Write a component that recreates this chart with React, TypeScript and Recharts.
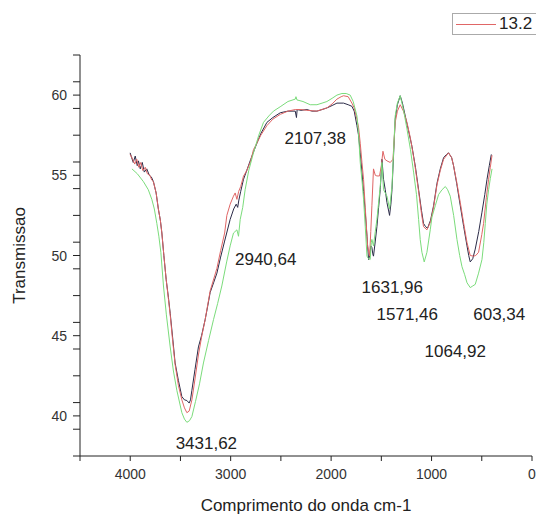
import React from "react";
import {
  LineChart,
  Line,
  XAxis,
  YAxis,
  Legend,
  ReferenceDot,
} from "recharts";

// wavenumber (cm-1) / transmission pairs
const darkX = [4001, 3970, 3950, 3930, 3918, 3900, 3880, 3860, 3835, 3810, 3790, 3769, 3742, 3720, 3700, 3685, 3665, 3642, 3620, 3602, 3578, 3553, 3520, 3486, 3460, 3436, 3413, 3400, 3386, 3355, 3321, 3290, 3254, 3230, 3204, 3170, 3137, 3100, 3060, 3005, 2970, 2945, 2930, 2920, 2900, 2872, 2840, 2800, 2770, 2739, 2700, 2639, 2580, 2506, 2430, 2357, 2345, 2338, 2300, 2241, 2190, 2141, 2090, 2042, 1990, 1942, 1876, 1830, 1793, 1770, 1743, 1727, 1710, 1693, 1677, 1660, 1643, 1627, 1615, 1605, 1594, 1585, 1578, 1560, 1544, 1527, 1511, 1494, 1478, 1461, 1444, 1418, 1405, 1394, 1378, 1362, 1340, 1312, 1290, 1262, 1230, 1195, 1160, 1129, 1100, 1080, 1060, 1040, 1010, 980, 946, 913, 880, 850, 831, 800, 781, 750, 714, 680, 647, 630, 615, 590, 565, 530, 498, 470, 448, 425, 405];
const darkY = [56.4, 55.8, 56.2, 55.6, 55.9, 55.4, 55.8, 55.2, 55.4, 55.0, 54.9, 54.6, 53.9, 52.9, 52.2, 51.4, 50.0, 48.5, 47.4, 46.4, 44.9, 43.3, 42.2, 41.2, 41.0, 40.96, 40.8, 41.0, 41.6, 42.9, 44.3, 45.0, 46.0, 46.8, 47.7, 48.3, 48.9, 49.9, 50.9, 52.25, 52.9, 53.2, 53.0, 53.4, 54.0, 54.75, 55.3, 56.0, 56.5, 57.0, 57.6, 58.3, 58.6, 58.9, 59.0, 59.0, 58.6, 59.1, 59.05, 59.1, 59.0, 59.0, 59.1, 59.2, 59.35, 59.5, 59.5, 59.4, 59.3, 59.0, 58.1, 57.5, 56.4, 55.2, 54.0, 52.7, 51.2, 49.75, 50.0, 50.6, 50.5, 50.1, 49.96, 50.9, 51.8, 53.0, 54.1, 56.0, 54.75, 54.1, 53.3, 52.5, 53.2, 54.1, 56.3, 58.5, 59.4, 59.96, 59.5, 58.7, 57.8, 56.8, 55.5, 54.1, 52.8, 52.0, 51.8, 51.7, 52.2, 53.1, 54.5, 55.4, 56.1, 56.3, 56.4, 56.1, 55.6, 54.5, 53.1, 51.8, 50.6, 50.0, 49.6, 49.8, 50.4, 51.5, 52.7, 53.8, 54.75, 55.6, 56.3];

const redX = [4001, 3975, 3955, 3935, 3915, 3895, 3875, 3850, 3830, 3805, 3785, 3769, 3742, 3720, 3700, 3685, 3665, 3642, 3620, 3602, 3578, 3553, 3520, 3486, 3460, 3436, 3413, 3386, 3355, 3321, 3290, 3254, 3204, 3137, 3100, 3060, 3038, 3005, 2972, 2955, 2938, 2920, 2900, 2872, 2839, 2800, 2773, 2739, 2700, 2639, 2580, 2506, 2430, 2357, 2300, 2241, 2141, 2042, 1990, 1942, 1900, 1876, 1830, 1793, 1770, 1743, 1727, 1710, 1693, 1677, 1660, 1637, 1617, 1605, 1594, 1578, 1560, 1544, 1518, 1500, 1484, 1465, 1444, 1411, 1384, 1362, 1340, 1312, 1280, 1245, 1210, 1170, 1129, 1100, 1080, 1046, 1010, 980, 946, 913, 880, 831, 800, 781, 750, 714, 680, 647, 615, 582, 560, 532, 500, 482, 455, 432, 415, 398];
const redY = [56.3, 56.0, 55.7, 56.0, 55.5, 55.8, 55.3, 55.5, 55.1, 55.0, 54.7, 54.6, 53.9, 52.9, 52.2, 51.4, 50.0, 48.5, 47.3, 46.3, 44.7, 43.2, 41.9, 41.0, 40.5, 40.2, 40.3, 41.0, 42.3, 43.8, 44.9, 46.0, 47.8, 49.2, 50.3, 51.4, 52.5, 53.2, 53.7, 53.9, 53.5, 54.0, 54.3, 54.95, 55.3, 55.9, 56.6, 57.0, 57.5, 58.1, 58.5, 58.8, 59.0, 59.1, 59.1, 59.05, 59.0, 59.2, 59.45, 59.75, 59.9, 59.96, 59.9, 59.5, 59.2, 58.5, 58.0, 57.0, 55.8, 54.75, 53.0, 50.6, 49.96, 51.5, 53.1, 55.4, 55.0, 54.96, 54.96, 55.6, 56.5, 56.0, 55.9, 55.8, 56.0, 58.3, 59.0, 59.4, 59.0, 58.3, 57.3, 55.8, 54.0, 52.6, 51.8, 51.6, 52.1, 53.0, 54.4, 55.3, 56.0, 56.4, 56.1, 55.6, 54.6, 53.3, 52.0, 50.8, 50.0, 49.96, 50.0, 50.2, 51.3, 52.0, 53.6, 54.75, 55.5, 56.25];

const greenX = [3983, 3930, 3868, 3820, 3785, 3760, 3735, 3715, 3695, 3669, 3640, 3602, 3570, 3536, 3486, 3460, 3436, 3410, 3386, 3350, 3310, 3271, 3220, 3171, 3130, 3088, 3040, 3005, 2972, 2938, 2922, 2905, 2880, 2856, 2820, 2773, 2720, 2673, 2620, 2574, 2500, 2430, 2357, 2350, 2340, 2280, 2208, 2141, 2090, 2042, 1990, 1942, 1892, 1850, 1810, 1780, 1743, 1727, 1710, 1690, 1677, 1660, 1643, 1627, 1611, 1600, 1594, 1578, 1560, 1544, 1511, 1494, 1478, 1444, 1418, 1394, 1378, 1362, 1340, 1312, 1280, 1245, 1210, 1179, 1150, 1129, 1113, 1096, 1073, 1046, 1013, 996, 963, 930, 896, 863, 840, 814, 780, 747, 720, 697, 670, 647, 615, 590, 565, 532, 498, 480, 465, 450, 432, 415, 398];
const greenY = [55.4, 55.1, 54.6, 54.1, 53.5, 52.9, 52.0, 51.2, 50.2, 48.1, 46.3, 44.3, 42.8, 41.6, 40.2, 39.8, 39.6, 39.7, 39.96, 40.9, 42.0, 43.3, 44.7, 46.0, 47.0, 48.1, 49.6, 50.6, 51.4, 51.6, 51.2, 52.25, 53.0, 54.1, 55.3, 56.4, 57.5, 58.3, 58.7, 59.0, 59.3, 59.6, 59.75, 59.9, 59.7, 59.6, 59.4, 59.4, 59.5, 59.6, 59.8, 60.0, 60.1, 60.1, 60.0, 59.6, 58.7, 57.6, 55.8, 54.5, 53.5, 51.8, 49.96, 49.8, 49.75, 50.8, 51.0, 50.6, 51.5, 52.25, 54.3, 55.8, 54.1, 53.7, 52.9, 54.3, 56.5, 58.7, 59.5, 59.96, 59.1, 57.9, 56.6, 55.2, 53.8, 52.25, 51.0, 50.2, 49.6, 50.2, 51.6, 52.4, 53.1, 53.8, 54.1, 54.3, 54.1, 53.7, 52.5, 51.0, 50.0, 49.3, 48.8, 48.3, 48.0, 48.1, 48.2, 48.9, 49.75, 50.8, 52.0, 53.2, 54.1, 54.8, 55.4];

const xTicks = [4500, 4000, 3500, 3000, 2500, 2000, 1500, 1000, 500, 0];
const yTicks = [37.5, 39.17, 40, 40.83, 42.5, 44.17, 45, 45.83, 47.5, 49.17, 50, 50.83, 52.5, 54.17, 55, 55.83, 57.5, 59.17, 60, 60.83, 62.5];

const peakX = [3242, 2651, 2158, 1391, 1242, 326, 764];
const peakY = [38.31, 49.81, 57.31, 48.06, 46.375, 46.375, 44.06];
const peakText = ["3431,62", "2940,64", "2107,38", "1631,96", "1571,46", "603,34", "1064,92"];

const legendName = "13.2";

const toPoints = (xs: number[], ys: number[]) => xs.map((x, i) => ({ x, y: ys[i] }));

const darkData = toPoints(darkX, darkY);
const redData = toPoints(redX, redY);
const greenData = toPoints(greenX, greenY);

const FONT = "'Liberation Sans', Arial, sans-serif";
const INK = "#222";

const XTick = ({ x, y, payload }: any) =>
  payload.value % 1000 === 0 ? (
    <text x={x} y={y + 16} textAnchor="middle" fontSize={14} fontFamily={FONT} fill="#333">
      {payload.value}
    </text>
  ) : (
    <g />
  );

const YTick = ({ x, y, payload }: any) =>
  Math.abs(payload.value % 5) < 0.01 ? (
    <text x={x - 4} y={y + 5} textAnchor="end" fontSize={14} fontFamily={FONT} fill="#333">
      {payload.value}
    </text>
  ) : (
    <g />
  );

const LegendBox = () => (
  <div
    style={{
      border: "1px solid #aaa",
      height: 22,
      width: 90,
      display: "flex",
      alignItems: "center",
      fontFamily: FONT,
      fontSize: 17,
      color: "#222",
      boxSizing: "border-box",
    }}
  >
    <span style={{ display: "inline-block", width: 40, height: 1, background: "#e06666", marginLeft: 3, marginRight: 3 }} />
    <span>{legendName}</span>
  </div>
);

export default function App() {
  return (
    <div style={{ position: "absolute", left: 0, top: 0, background: "#fff" }}>
      <LineChart width={536} height={518} margin={{ top: 55, right: 4, bottom: 0, left: 0 }}>
        <XAxis
          dataKey="x"
          type="number"
          domain={[0, 4500]}
          reversed
          ticks={xTicks}
          interval={0}
          tickSize={5}
          tick={<XTick />}
          stroke={INK}
          height={62}
          allowDataOverflow
          label={({ viewBox }: any) => (
            <text
              x={viewBox.x + viewBox.width / 2}
              y={viewBox.y + 55}
              textAnchor="middle"
              fontSize={17}
              fontFamily={FONT}
              fill={INK}
            >
              Comprimento do onda cm-1
            </text>
          )}
        />
        <YAxis
          type="number"
          domain={[37.5, 62.5]}
          ticks={yTicks}
          interval={0}
          tickSize={7}
          tick={<YTick />}
          stroke={INK}
          width={80}
          allowDataOverflow
          label={({ viewBox }: any) => {
            const cx = 19;
            const cy = viewBox.y + viewBox.height / 2;
            return (
              <text
                x={cx}
                y={cy}
                transform={`rotate(-90 ${cx} ${cy})`}
                textAnchor="middle"
                dominantBaseline="central"
                fontSize={17}
                fontFamily={FONT}
                fill={INK}
              >
                Transmissao
              </text>
            );
          }}
        />
        <Legend
          layout="horizontal"
          verticalAlign="middle"
          align="center"
          content={() => <LegendBox />}
          wrapperStyle={{ position: "absolute", top: 13, left: 452, width: 90 }}
        />
        <Line
          data={darkData}
          dataKey="y"
          type="linear"
          stroke="#2b2b48"
          strokeWidth={1}
          dot={false}
          isAnimationActive={false}
          legendType="none"
        />
        <Line
          data={redData}
          dataKey="y"
          name={legendName}
          type="linear"
          stroke="#e06666"
          strokeWidth={1}
          dot={false}
          isAnimationActive={false}
        />
        <Line
          data={greenData}
          dataKey="y"
          type="linear"
          stroke="#7bdc7b"
          strokeWidth={1}
          dot={false}
          isAnimationActive={false}
          legendType="none"
        />
        {peakText.map((t, i) => (
          <ReferenceDot
            key={t}
            x={peakX[i]}
            y={peakY[i]}
            r={0}
            stroke="none"
            fill="none"
            ifOverflow="visible"
            label={{ value: t, position: "center", fontSize: 17, fontFamily: FONT, fill: INK }}
          />
        ))}
      </LineChart>
    </div>
  );
}
